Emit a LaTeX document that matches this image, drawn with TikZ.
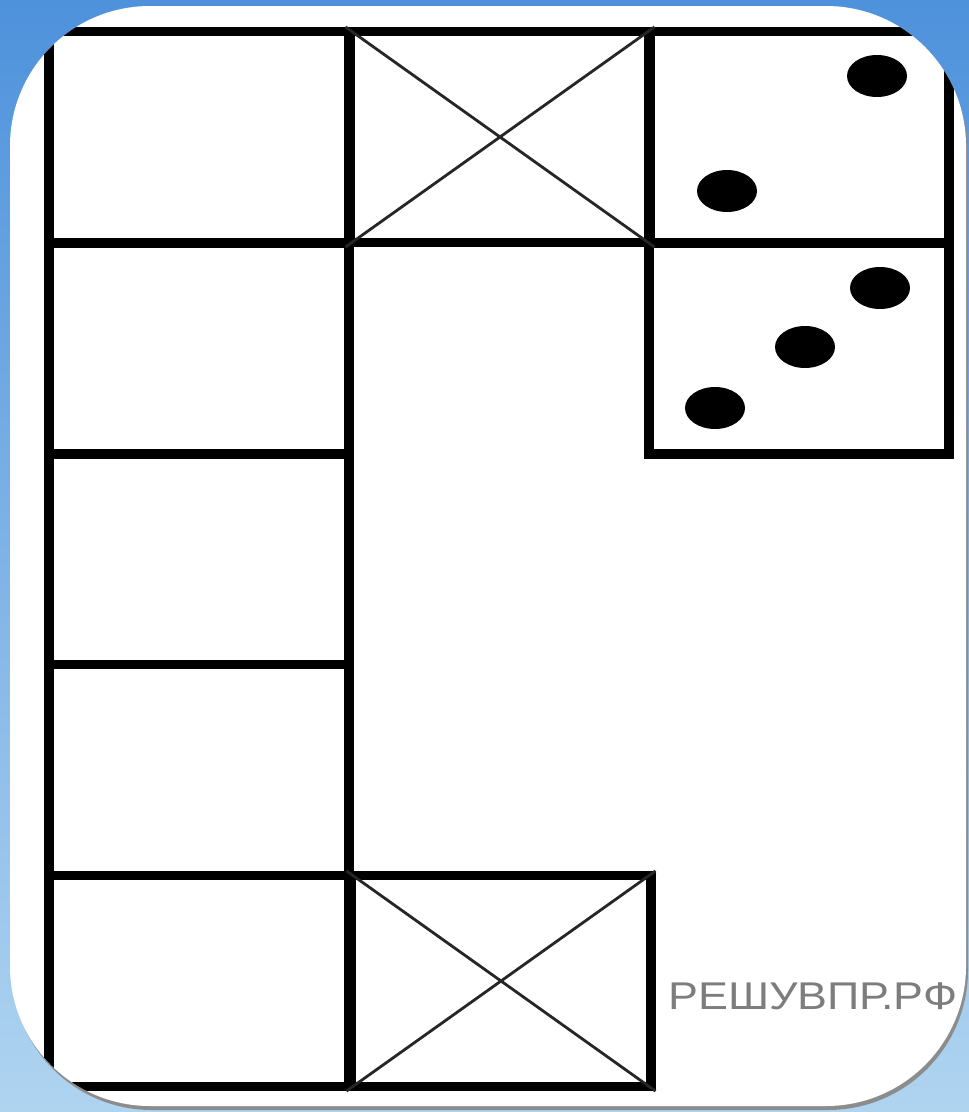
\documentclass[tikz,border=0pt]{standalone}
\usepackage{fontspec}
\setmainfont{Liberation Sans}
\usetikzlibrary{shapes.geometric}
\definecolor{bgtop}{RGB}{78,146,220}
\definecolor{bgbot}{RGB}{175,212,240}
\definecolor{wmgray}{RGB}{125,125,125}
\begin{document}
\begin{tikzpicture}[x=0.02cm,y=-0.02cm,
  cell/.style={draw=black, line width=5.2pt, inner sep=0pt, minimum width=6cm, minimum height=4.22cm},
  cross/.style={draw=black!85, line width=1.6pt},
  pip/.style={ellipse, fill=black, inner sep=0pt, minimum width=1.2cm, minimum height=0.84cm}]
\useasboundingbox (0,0) rectangle (969,1112);
\shade[top color=bgtop, bottom color=bgbot] (0,0) rectangle (969,1112);
% shadow of the card
\fill[black!45, rounded corners=2.8cm] (12,12) rectangle (968,1110);
\fill[white, rounded corners=2.8cm] (10,6) rectangle (966,1106);
\begin{scope}
\clip[rounded corners=2.8cm] (10,6) rectangle (966,1106);
% left column
\node[cell] (a1) at (199,137) {};
\node[cell] (a2) at (199,348.5) {};
\node[cell] (a3) at (199,559) {};
\node[cell] (a4) at (199,770) {};
\node[cell] (a5) at (199,981) {};
% top row
\node[cell] (b1) at (500,137) {};
\node[cell] (c1) at (799,137) {};
\node[cell] (c2) at (799,348.5) {};
% bottom crossed cell
\node[cell] (b5) at (501,981) {};
\draw[cross] (b1.north west) -- (b1.south east);
\draw[cross] (b1.south west) -- (b1.north east);
\draw[cross] (b5.north west) -- (b5.south east);
\draw[cross] (b5.south west) -- (b5.north east);
% pips
\node[pip] (p1) at (877,76) {};
\node[pip] (p2) at (727,191) {};
\node[pip] (p3) at (880,288) {};
\node[pip] (p4) at (805,347) {};
\node[pip] (p5) at (715,408) {};
\node[text=wmgray, font=\fontsize{22}{22}\selectfont, anchor=west, inner sep=0pt] (wm) at (668,996) {\scalebox{1.16}[1]{РЕШУВПР.РФ}};
\end{scope}
\end{tikzpicture}
\end{document}
